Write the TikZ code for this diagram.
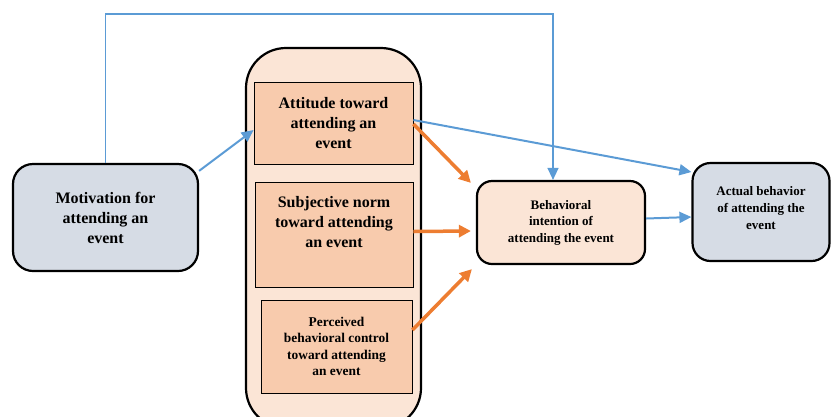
\documentclass[tikz,border=0pt]{standalone}
\usepackage{fontspec}
\setmainfont{Liberation Serif}
\usetikzlibrary{positioning}
\usetikzlibrary{arrows.meta}
\definecolor{boxgray}{HTML}{D6DCE5}
\definecolor{boxpeach}{HTML}{FBE5D6}
\definecolor{boxsalmon}{HTML}{F8CBAD}
\definecolor{linkblue}{HTML}{5B9BD5}
\definecolor{linkorange}{HTML}{ED7D31}

\begin{document}
\begin{tikzpicture}[x=1pt,y=-1pt]
\tikzset{
  bigbox/.style={draw, line width=2.2pt, rounded corners=20pt, align=center,
    font=\fontsize{16}{20}\selectfont\bfseries},
  smallbox/.style={bigbox, font=\fontsize{13}{16.5}\selectfont\bfseries},
  inbox/.style={draw, line width=0.8pt, fill=boxsalmon, align=center,
    font=\fontsize{16}{20}\selectfont\bfseries},
  bluelink/.style={draw=linkblue, line width=2pt, -{Triangle[length=12pt,width=11pt]}},
  orangelink/.style={draw=linkorange, line width=3.5pt, -{Triangle[length=12pt,width=12pt]}}
}
\clip (0,0) rectangle (832,416);
% construct panel
\node [draw, line width=2.2pt, fill=boxpeach, rounded corners=40pt,
  minimum width=175pt, minimum height=380pt] at (333.5,238) (panel) {};
\node [inbox, minimum width=159pt, minimum height=82pt] at (333.5,123) (att)
  {Attitude toward\\attending an\\event};
\node [inbox, minimum width=158pt, minimum height=105pt] at (334,234.5) (sub) {};
\node [align=center, font=\fontsize{16}{20}\selectfont\bfseries]
  at ([yshift=12pt]sub.center) (subtext) {Subjective norm\\toward attending\\an event};
\node [inbox, minimum width=151pt, minimum height=93pt,
  font=\fontsize{13.4}{16.5}\selectfont\bfseries] at (336.5,346.5) (per)
  {Perceived\\behavioral control\\toward attending\\an event};
% outer boxes
\node [bigbox, fill=boxgray, minimum width=185pt, minimum height=107pt] at (105.5,217.5) (mot)
  {Motivation for\\attending an\\event};
\node [smallbox, fill=boxpeach, rounded corners=15pt, minimum width=168pt, minimum height=83pt]
  at (561,222.5) (int) {Behavioral\\intention of\\attending the event};
\node [smallbox, fill=boxgray, rounded corners=18pt, minimum width=137pt, minimum height=98pt]
  at (761,212) (act) {};
\node [align=center, font=\fontsize{13}{17}\selectfont\bfseries]
  at ([yshift=4pt]act.center) (acttext) {Actual behavior\\of attending the\\event};
% links
\draw [bluelink] ([yshift=-8pt]mot.north east) -- ([yshift=-7pt]att.west);
\draw [bluelink, line width=1.3pt] (mot.north) -- ++(0,-149) -| ([xshift=-8pt]int.north);
\draw [bluelink] ([yshift=3pt]att.east) -- ([yshift=40pt]act.west);
\draw [bluelink] ([yshift=4pt]int.east) -- ([yshift=-5pt]act.west);
\draw [orangelink] ([yshift=-1pt]att.east) -- ([xshift=-5pt,yshift=-3pt]int.north west);
\draw [orangelink] ([yshift=3pt]sub.east) -- ([xshift=-5pt,yshift=-8.5pt]int.west);
\draw [orangelink] ([yshift=16.5pt]per.east) -- ([xshift=-4pt,yshift=-4pt]int.south west);
\end{tikzpicture}
\end{document}
